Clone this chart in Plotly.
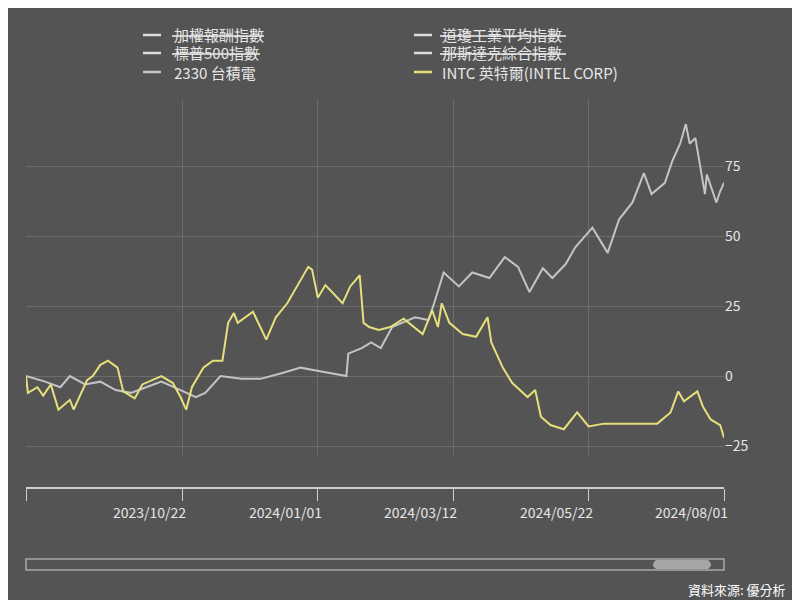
import plotly.graph_objects as go
import pandas as pd

BASE = pd.Timestamp("2023-08-01")

tsmc_days = [0, 10, 18, 23, 31, 39, 47, 55, 63, 71, 81, 89, 94, 102, 113, 123, 134, 144, 152, 160, 168, 169, 176, 181, 186,
             192, 204, 211, 214, 219, 227, 234, 243, 251, 258, 264, 271, 276, 283, 288, 297, 305, 311, 318, 324, 328,
             335, 339, 343, 346, 348, 351, 356, 357, 362, 364, 366]
tsmc_vals = [0, -2, -4, 0, -3, -2, -5, -6, -4, -2, -5, -7.5, -6, 0, -1, -1, 1, 3, 2, 1, 0, 8, 10, 12, 10,
             17.5, 21, 20, 26, 37, 32, 37, 35, 42.5, 39, 30, 38.5, 35, 40, 46, 53, 44, 56, 62, 72.5, 65,
             69, 77, 83, 90, 83, 85, 65, 72, 62, 66, 69]

intc_days = [0, 1, 6, 9, 13, 17, 23, 25, 32, 35, 39, 43, 48, 51, 57, 61, 71, 77, 81, 84, 87, 93, 98, 103, 106, 109, 111,
             119, 126, 131, 137, 142, 148, 150, 153, 157, 166, 170, 175, 177, 180, 185, 191, 198, 208, 213, 216, 218,
             222, 229, 236, 242, 244, 250, 255, 263, 267, 270, 275, 282, 289, 295, 303, 313, 331, 338, 342, 345, 352,
             355, 359, 364, 366]
intc_vals = [0, -6, -4, -7, -3, -12, -8.5, -12, -1.5, 0, 4, 5.5, 3, -5.5, -8, -3, 0, -2.5, -7.5, -12, -4, 3, 5.5, 5.5, 19, 22.5, 19,
             23, 13, 21, 26, 32, 39, 38, 28, 32.5, 26, 32, 36, 19, 17.5, 16.5, 17.5, 20.5, 15, 23.5, 17.5, 26,
             19, 15, 14, 21, 12, 3, -2.5, -7.5, -5, -14.5, -17.5, -19, -13, -18, -17, -17, -17, -13, -5.5, -9, -5.5,
             -11, -15.5, -17.5, -22]

legend_names = ["加權報酬指數", "道瓊工業平均指數", "標普500指數", "那斯達克綜合指數", "2330 台積電", "INTC 英特爾(INTEL CORP)"]
legend_hidden = [True, True, True, True, False, False]
tick_dates = ["2023-08-01", "2023-10-22", "2024-01-01", "2024-03-12", "2024-05-22", "2024-08-01"]
tick_labels = ["", "2023/10/22", "2024/01/01", "2024/03/12", "2024/05/22", "2024/08/01"]
y_ticks = [-25, 0, 25, 50, 75]

BG = "#545454"
GRAY = "#c4c4c4"
YEL = "#e6df7c"
TXT = "#e6e6e6"
FONT = "Noto Sans CJK TC"
OFF = 8  # page offset of the figure in the browser

def to_dates(days):
    return [BASE + pd.Timedelta(days=d) for d in days]

fig = go.Figure()
fig.add_trace(go.Scatter(x=to_dates(tsmc_days), y=tsmc_vals, mode="lines", line=dict(color=GRAY, width=2), name="2330 台積電"))
fig.add_trace(go.Scatter(x=to_dates(intc_days), y=intc_vals, mode="lines", line=dict(color=YEL, width=2), name="INTC"))

W, H = 800 - OFF, 600 - OFF
ml, mr, mt, mb = 26 - OFF, 76, 100 - OFF, 112
pw, ph = W - ml - mr, H - mt - mb

def px(x):
    return (x - OFF - ml) / pw

def py(y):
    return (H - mb - (y - OFF)) / ph

fig.update_layout(
    width=W, height=H, paper_bgcolor=BG, plot_bgcolor=BG, showlegend=False,
    margin=dict(l=ml, r=mr, t=mt, b=mb),
    font=dict(family=FONT, color=TXT, size=14),
    xaxis=dict(range=[tick_dates[0], tick_dates[-1]], tickvals=tick_dates, showticklabels=False,
               showgrid=True, gridcolor="#6c6c6c", gridwidth=1, showline=True, linecolor="#cfcfcf", linewidth=1.5,
               ticks="outside", ticklen=12, tickcolor="#cfcfcf", anchor="free", position=0, zeroline=False),
    yaxis=dict(range=[-28.2, 98.6], domain=[py(455), 1], tickvals=y_ticks, side="right",
               showgrid=True, gridcolor="#6c6c6c", zeroline=False, showline=False, ticks="",
               tickfont=dict(size=14, color=TXT)),
)

anns, shapes = [], []
for d, lab in zip(tick_dates, tick_labels):
    if lab:
        anns.append(dict(x=d, xref="x", y=py(512), yref="paper", text=lab, showarrow=False,
                         xanchor="right", xshift=6, yanchor="middle", font=dict(size=14, color=TXT)))

rows_y = [35, 53, 72]
col_line = [143, 414]
col_text = [172, 440]
text_w = [92, 126, 88, 126, 0, 0]
for i, (name, hid) in enumerate(zip(legend_names, legend_hidden)):
    r, c = i // 2, i % 2
    yv = rows_y[r]
    lc = YEL if name.startswith("INTC") else ("#dcdcdc" if hid else GRAY)
    shapes.append(dict(type="line", xref="paper", yref="paper", x0=px(col_line[c]), x1=px(col_line[c] + 18),
                       y0=py(yv), y1=py(yv), line=dict(color=lc, width=2.5)))
    anns.append(dict(x=px(col_text[c]), y=py(yv), xref="paper", yref="paper", text=name, showarrow=False,
                     xanchor="left", yanchor="middle", font=dict(size=15, color=TXT)))
    if hid:
        shapes.append(dict(type="line", xref="paper", yref="paper", x0=px(col_text[c]), x1=px(col_text[c] + text_w[i]),
                           y0=py(yv + 1), y1=py(yv + 1), line=dict(color="#f0f0f0", width=1.6), layer="above"))

# scrollbar
shapes.append(dict(type="rect", xref="paper", yref="paper", x0=px(26), x1=px(724), y0=py(570), y1=py(559),
                   line=dict(color="#a8a8a8", width=1.5), fillcolor=BG))
shapes.append(dict(type="path", xref="paper", yref="paper",
                   path=f"M {px(656)},{py(560)} L {px(708)},{py(560)} Q {px(714)},{py(564.5)} {px(708)},{py(569)} L {px(656)},{py(569)} Q {px(650)},{py(564.5)} {px(656)},{py(560)} Z",
                   line=dict(width=0), fillcolor="#a6a6a6"))
anns.append(dict(x=px(788), y=py(589), xref="paper", yref="paper", text="資料來源: 優分析", showarrow=False,
                 xanchor="right", yanchor="middle", font=dict(size=13, color="#ffffff")))

fig.update_layout(annotations=anns, shapes=shapes)
fig.write_html("out.html")
